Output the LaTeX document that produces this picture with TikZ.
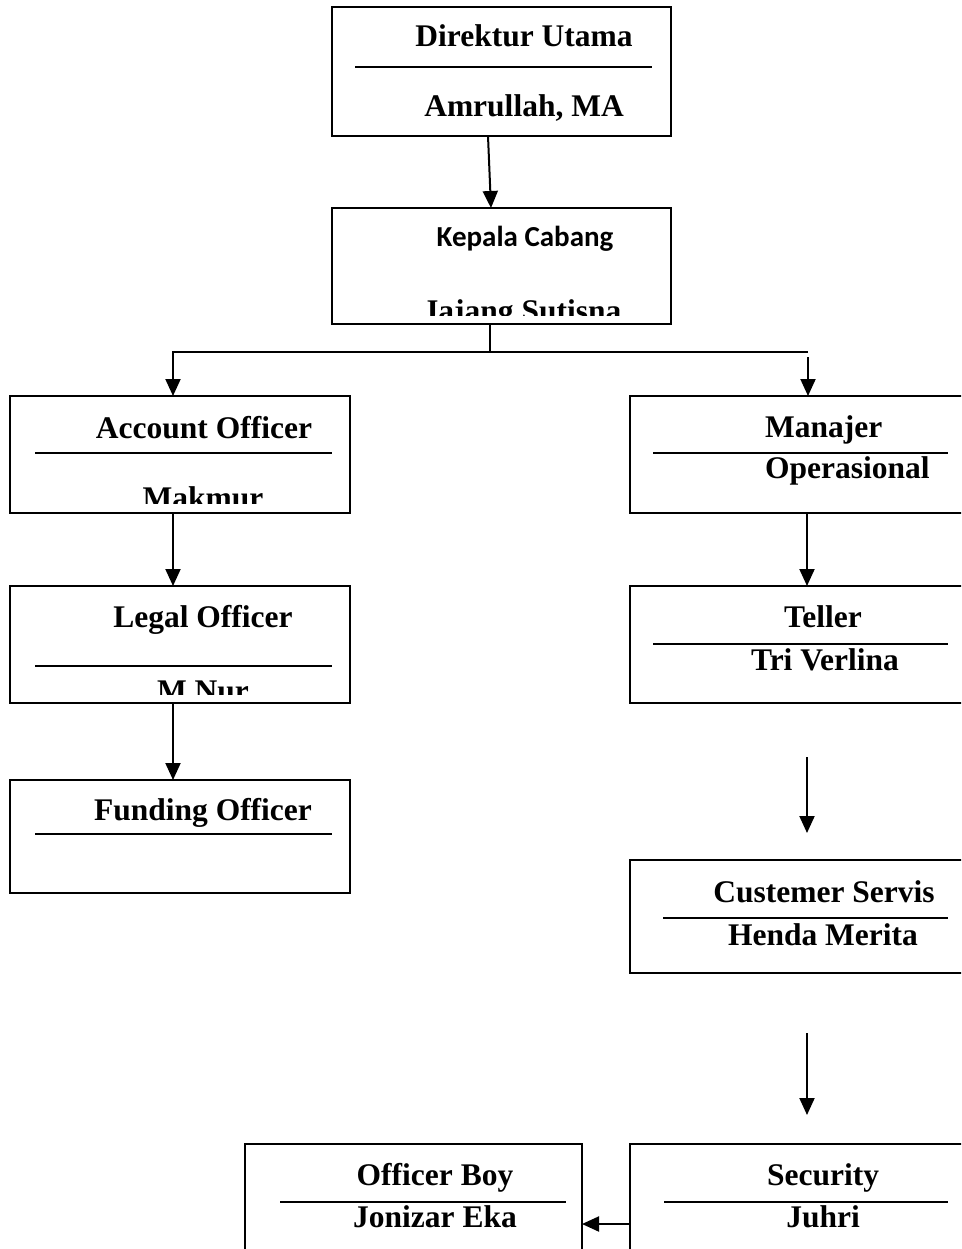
\documentclass[tikz,border=0pt]{standalone}
\usepackage{fontspec}
\setmainfont{Liberation Serif}
\newfontfamily\calfont{Carlito}
\usetikzlibrary{arrows.meta,calc}
\begin{document}
\begin{tikzpicture}[x=1pt,y=-1pt,
  box/.style={draw, line width=2pt, rectangle, anchor=north west, inner sep=0pt, outer sep=0pt},
  divider/.style={line width=1.6pt},
  lbl/.style={anchor=base, inner sep=0pt, font=\fontsize{31.5}{36}\selectfont\bfseries},
  lblw/.style={anchor=base west, inner sep=0pt, font=\fontsize{31.5}{36}\selectfont\bfseries},
  cal/.style={anchor=base, inner sep=0pt, font=\fontsize{29}{33}\selectfont\calfont\bfseries},
  conn/.style={line width=2pt},
  arr/.style={line width=2pt, -{Triangle[length=17pt,width=15pt]}}]
\clip (0,0) rectangle (961,1249);
\fill[white] (0,0) rectangle (961,1249);

% boxes
\node[box, minimum width=339pt, minimum height=129pt] (dir) at (332,7) {};
\node[box, minimum width=339pt, minimum height=116pt] (kc) at (332,208) {};
\node[box, minimum width=340pt, minimum height=117pt] (ao) at (10,396) {};
\node[box, minimum width=340pt, minimum height=117pt] (lo) at (10,586) {};
\node[box, minimum width=340pt, minimum height=113pt] (fo) at (10,780) {};
\node[box, minimum width=345pt, minimum height=117pt] (mo) at (630,396) {};
\node[box, minimum width=345pt, minimum height=117pt] (te) at (630,586) {};
\node[box, minimum width=345pt, minimum height=113pt] (cs) at (630,860) {};
\node[box, minimum width=337pt, minimum height=120pt] (ob) at (245,1144) {};
\node[box, minimum width=345pt, minimum height=120pt] (se) at (630,1144) {};

% dividers
\draw[divider] (355,67) -- (652,67);
\draw[divider] (35,453) -- (332,453);
\draw[divider] (35,666) -- (332,666);
\draw[divider] (35,834) -- (332,834);
\draw[divider] (653,453) -- (948,453);
\draw[divider] (653,644) -- (948,644);
\draw[divider] (663,918) -- (948,918);
\draw[divider] (280,1202) -- (566,1202);
\draw[divider] (664,1202) -- (948,1202);

% texts
\node[lbl] (t1) at (524,47) {Direktur Utama};
\node[lbl] (t2) at (524,117) {Amrullah, MA};
\node[cal] (t3) at (525,247) {Kepala Cabang};
\begin{scope}
  \clip (334,210) rectangle (668,315);
  \node[lbl] (t4) at (522,321) {Jajang Sutisna};
\end{scope}
\node[lbl] (t5) at (204,438) {Account Officer};
\begin{scope}
  \clip (12,398) rectangle (348,503);
  \node[lbl] (t6) at (203,508) {Makmur};
\end{scope}
\node[lbl] (t7) at (203,627) {Legal Officer};
\begin{scope}
  \clip (12,588) rectangle (348,694);
  \node[lbl] (t8) at (203,701) {M.Nur};
\end{scope}
\node[lbl] (t9) at (203,820) {Funding Officer};
\node[lblw] (t10) at (765,437) {Manajer};
\node[lblw] (t11) at (765,478) {Operasional};
\node[lbl] (t12) at (823,627) {Teller};
\node[lbl] (t13) at (825,670) {Tri Verlina};
\node[lbl] (t14) at (824,902) {Custemer Servis};
\node[lbl] (t15) at (823,945) {Henda Merita};
\node[lbl] (t16) at (435,1185) {Officer Boy};
\node[lbl] (t17) at (435,1227) {Jonizar Eka};
\node[lbl] (t18) at (823,1185) {Security};
\node[lbl] (t19) at (823,1227) {Juhri};

% connectors
\draw[arr] ($(dir.south west)+(156,0)$) -- ($(kc.north west)+(159,0)$);
\draw[arr] ($(kc.south west)+(158,0)$) -- ++(0,28) -| ($(ao.north west)+(163,0)$);
\draw[conn] ($(kc.south west)+(158,28)$) -- ($(mo.north west)+(178,-44)$);
\draw[arr] ($(mo.north west)+(178,-39)$) -- ($(mo.north west)+(178,0)$);
\draw[arr] ($(ao.south west)+(163,0)$) -- ($(lo.north west)+(163,0)$);
\draw[arr] ($(lo.south west)+(163,0)$) -- ($(fo.north west)+(163,0)$);
\draw[arr] ($(mo.south west)+(177,0)$) -- ($(te.north west)+(177,0)$);
\coordinate (f1s) at (807,757);
\coordinate (f1e) at (807,833);
\draw[arr] (f1s) -- (f1e);
\coordinate (f2s) at (807,1033);
\coordinate (f2e) at (807,1115);
\draw[arr] (f2s) -- (f2e);
\draw[arr] (se.west |- 0,1224) -- (ob.east |- 0,1224);
\end{tikzpicture}
\end{document}
